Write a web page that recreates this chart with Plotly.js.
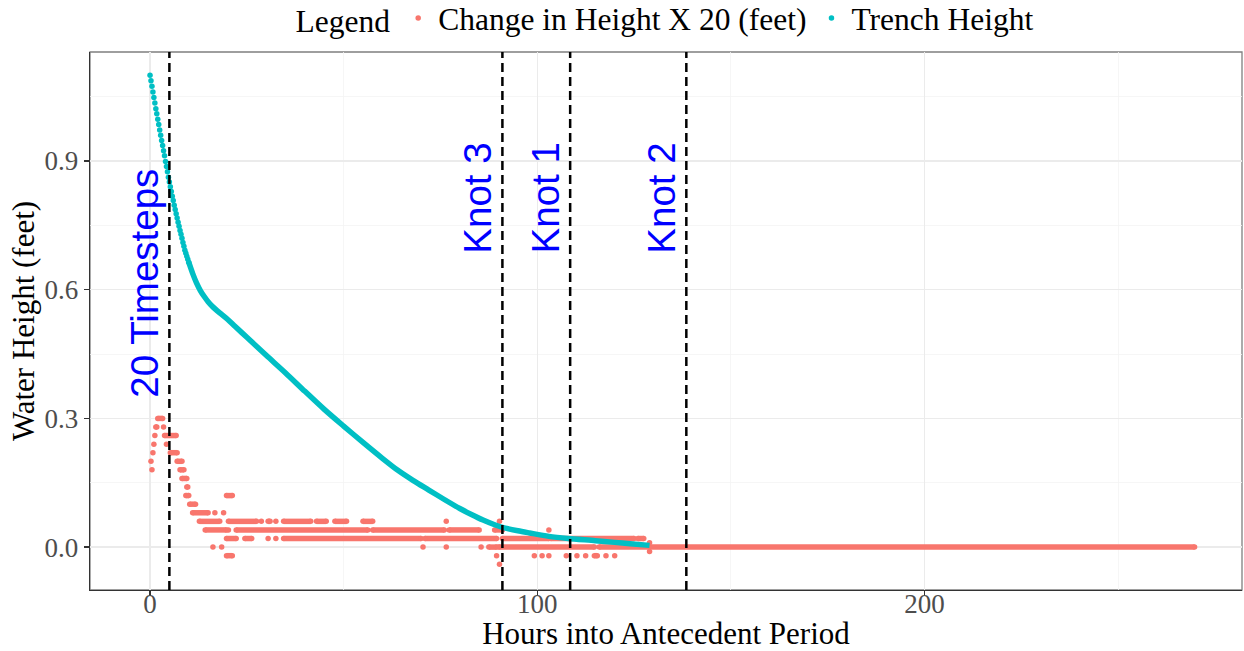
<!DOCTYPE html>
<html><head><meta charset="utf-8">
<script src="https://cdn.plot.ly/plotly-3.0.1.min.js"></script>
<style>html,body{margin:0;padding:0;background:#fff}</style>
</head><body><div id="chart" style="width:1244px;height:651px"></div>
<script>
const RED = '#F8766D', TEAL = '#00BFC4';
const SERIF = 'Liberation Serif, Times New Roman, serif';
const SANS = 'Liberation Sans, Arial, sans-serif';

// Change in Height X 20 (feet): runs of observed points sitting at one level (hours)
const redLevel = [0.20,0.18,0.22,0.24,0.26,0.28,0.30,0.28,0.26,0.24,0.22,0.20,0.18,0.16,0.14,0.12,0.10,
  0.08,0.08,0.08,0.06,0.06,0.06,0.06,0.06,0.06,0.06,0.06,0.06,0.06,0.06,
  0.04,0.04,0.04,0.04,0.04,0.04,0.04,
  0.02,0.02,0.02,0.02,0.02,0.02,0.02,0.02,0.02,0.01,
  0.00,0.00,0.00,0.00,0.00,0.00,0.00,0.00,-0.01,
  -0.02,-0.02,-0.02,-0.02,-0.02,-0.02,-0.02,-0.02,-0.02,-0.02,-0.02,-0.04,0.12];
const redStart = [0.25,0.5,0.75,1.0,1.25,1.5,2.0,3.5,3.75,4.25,5.25,7.0,7.75,8.25,9.5,9.25,10.25,
  11.0,16.75,19.0,12.75,20.25,28.75,30.5,32.5,34.5,43.0,47.75,55.0,76.5,90.25,
  14.25,20.25,22.25,57.5,77.25,89.0,103.0,
  19.75,24.5,30.5,32.5,34.5,71.0,91.0,103.5,126.0,129.0,
  16.25,18.5,70.5,76.5,85.5,87.5,90.0,116.0,129.0,
  19.75,89.5,99.25,101.25,103.0,107.5,110.25,112.5,114.75,117.75,120.0,90.25,19.75];
const redEnd = [0.25,0.5,0.75,1.0,1.25,1.75,3.25,3.5,6.75,4.25,7.0,8.25,8.75,9.5,9.75,10.0,11.75,
  15.0,16.75,19.0,18.0,27.5,28.75,31.0,32.5,41.5,45.5,50.75,57.5,76.5,90.25,
  19.75,20.25,56.25,76.0,85.0,91.0,103.0,
  22.25,26.25,30.5,32.5,70.0,89.5,103.0,125.0,127.5,129.0,
  16.25,18.5,70.5,76.5,85.5,89.5,114.75,269.75,129.0,
  21.25,89.5,99.25,101.25,103.0,107.5,110.25,112.5,115.5,117.75,120.0,90.25,21.25];

// Trench Height (feet): early, separately visible points
const trenchDotHours = [0,0.25,0.5,0.75,1,1.25,1.5,1.75,2,2.25,2.5,2.75,3,3.25,3.5,3.75,4,4.25,4.5,4.75,
  5,5.25,5.5,5.75,6,6.25,6.5,6.75,7,7.25,7.5,7.75,8,8.25,8.5,8.75,9,9.25,9.5,9.75,10];
const trenchDotHeight = [1.100,1.087,1.074,1.061,1.048,1.035,1.022,1.010,0.997,0.985,0.972,0.960,0.948,0.936,0.924,0.912,0.899,0.887,0.875,0.862,
  0.851,0.840,0.829,0.818,0.808,0.797,0.787,0.777,0.767,0.757,0.748,0.738,0.729,0.720,0.710,0.701,0.692,0.685,0.678,0.671,0.664];
// Trench Height (feet): later part, where the points merge into a band
const trenchLineHours = [10,11,12,13,14,15,16,18,20,22,25,30,35,40,45,50,55,60,64,68,72,76,80,83,86,89,91,95,98,103,108,115,120,124,129];
const trenchLineHeight = [0.664,0.638,0.616,0.598,0.584,0.572,0.562,0.546,0.531,0.514,0.489,0.447,0.406,0.363,0.321,0.282,0.244,0.207,0.179,0.155,0.133,0.111,0.090,0.076,0.063,0.052,0.046,0.038,0.033,0.025,0.020,0.015,0.011,0.008,0.004];

// Reference lines and their labels
const vlineHours = [5, 91, 108.5, 138.5];
const vlineLabels = ['20 Timesteps', 'Knot 3', 'Knot 1', 'Knot 2'];
const labelHeight = [0.615, 0.813, 0.813, 0.813];

const xTicks = [0, 100, 200];
const yTicks = [0, 0.3, 0.6, 0.9];
const yTickText = ['0.0', '0.3', '0.6', '0.9'];

// build red run segments and endpoint markers
const segX = [], segY = [], ptX = [], ptY = [];
for (let i = 0; i < redLevel.length; i++) {
  segX.push(redStart[i], redEnd[i], null);
  segY.push(redLevel[i], redLevel[i], null);
  ptX.push(redStart[i]); ptY.push(redLevel[i]);
  if (redEnd[i] !== redStart[i]) { ptX.push(redEnd[i]); ptY.push(redLevel[i]); }
}

const MS = 5.5;
const traces = [
  {x: segX, y: segY, type: 'scatter', mode: 'lines', line: {color: RED, width: MS}, showlegend: false, hoverinfo: 'skip', connectgaps: false},
  {x: ptX, y: ptY, type: 'scatter', mode: 'markers', marker: {color: RED, size: MS}, name: 'Change in Height X 20 (feet)'},
  {x: trenchLineHours, y: trenchLineHeight, type: 'scatter', mode: 'lines', line: {color: TEAL, width: MS, shape: 'spline', smoothing: 0.8}, showlegend: false, hoverinfo: 'skip'},
  {x: trenchDotHours, y: trenchDotHeight, type: 'scatter', mode: 'markers', marker: {color: TEAL, size: MS}, name: 'Trench Height'}
];

const shapes = vlineHours.map(h => ({
  type: 'line', xref: 'x', yref: 'paper', x0: h, x1: h, y0: 0, y1: 1,
  line: {color: 'black', width: 2.5, dash: '9px,5px'}
}));
shapes.push({type: 'rect', xref: 'paper', yref: 'paper', x0: 0, x1: 1, y0: 0, y1: 1, line: {color: '#7f7f7f', width: 1.3}, layer: 'below'});

const annotations = vlineLabels.map((t, i) => ({
  x: vlineHours[i], y: labelHeight[i], xref: 'x', yref: 'y', text: t, showarrow: false,
  textangle: -90, xanchor: 'center', yanchor: 'middle', xshift: -25,
  font: {family: SANS, size: 38.5, color: '#0000FF'}
}));

const axisCommon = {
  showline: true, linecolor: '#333333', linewidth: 1.3, mirror: false,
  ticks: 'outside', ticklen: 5, tickwidth: 1.3, tickcolor: '#333333',
  showgrid: true, gridcolor: '#ebebeb', gridwidth: 1.3, zeroline: false,
  tickfont: {family: SERIF, size: 27, color: '#4d4d4d'}, automargin: false
};

const layout = {
  width: 1244, height: 651,
  margin: {l: 90, r: 2, t: 52, b: 61, autoexpand: false},
  paper_bgcolor: '#ffffff', plot_bgcolor: '#ffffff',
  font: {family: SERIF, color: '#000000'},
  xaxis: Object.assign({}, axisCommon, {
    range: [-15.5, 282], tickmode: 'array', tickvals: xTicks,
    ticklabelstandoff: -16,
    minor: {tick0: 0, dtick: 50, showgrid: true, gridcolor: '#f4f4f4', gridwidth: 0.8, ticks: ''},
    title: {text: 'Hours into Antecedent Period', font: {family: SERIF, size: 31, color: '#000'}, standoff: 9}
  }),
  yaxis: Object.assign({}, axisCommon, {
    range: [-0.1, 1.154], tickmode: 'array', tickvals: yTicks, ticktext: yTickText,
    minor: {tick0: 0, dtick: 0.15, showgrid: true, gridcolor: '#f4f4f4', gridwidth: 0.8, ticks: ''},
    title: {text: 'Water Height (feet)', font: {family: SERIF, size: 31, color: '#000'}, standoff: 0}
  }),
  legend: {
    orientation: 'h', x: 0.5, xanchor: 'center', y: 1.0632, yanchor: 'middle',
    font: {family: SERIF, size: 31.5, color: '#000'},
    title: {text: 'Legend', side: 'left', font: {family: SERIF, size: 31.5, color: '#000'}},
    bgcolor: 'rgba(0,0,0,0)', itemsizing: 'trace'
  },
  shapes: shapes,
  annotations: annotations,
  hovermode: false
};

Plotly.newPlot('chart', traces, layout, {displayModeBar: false, staticPlot: true});
</script>
</body></html>
